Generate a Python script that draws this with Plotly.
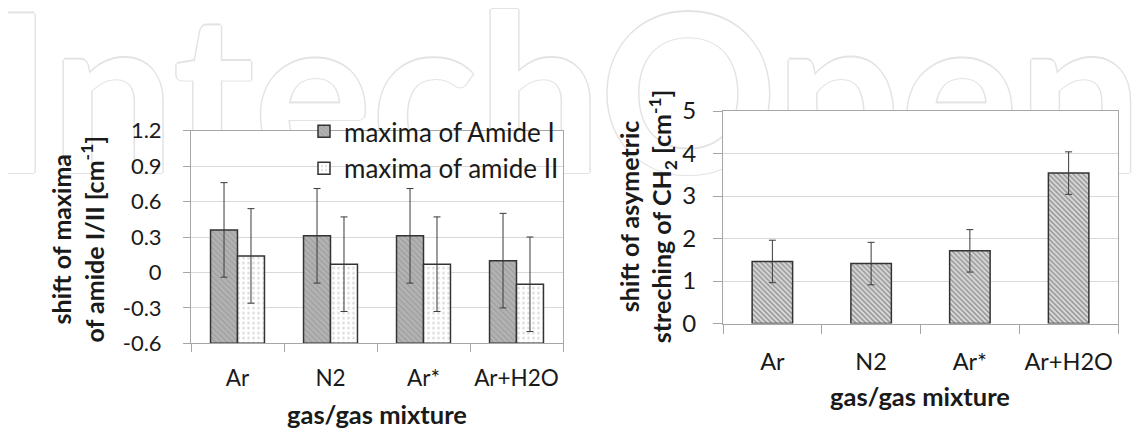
import plotly.graph_objects as go

# ---------------- data ----------------
categories = ["Ar", "N2", "Ar*", "Ar+H2O"]

amide1 = [0.36, 0.31, 0.31, 0.10]
amide1_err = [0.40, 0.40, 0.40, 0.40]
amide2 = [0.14, 0.07, 0.07, -0.10]
amide2_err = [0.40, 0.40, 0.40, 0.40]

ch2 = [1.46, 1.41, 1.71, 3.54]
ch2_err = [0.50, 0.50, 0.50, 0.50]

left_ticks = [-0.6, -0.3, 0, 0.3, 0.6, 0.9, 1.2]
right_ticks = [0, 1, 2, 3, 4, 5]

legend_names = ["maxima of Amide I", "maxima of amide II"]

# ---------------- style ----------------
W, H = 1143, 433
FONT = "Lato"
TXT = "#1a1a1a"
AX = "#a6a6a6"
GRID = "#d9d9d9"
ERR = "#3a3a3a"
EDGE = "#333333"

left_min, left_max = left_ticks[0], left_ticks[-1]
right_min, right_max = right_ticks[0], right_ticks[-1]


def fmt(v):
    return "%g" % v


fig = go.Figure()

# left chart: bars grow from the bottom of the axis (Excel style)
fig.add_trace(go.Bar(
    x=categories, y=[v - left_min for v in amide1], base=left_min,
    name=legend_names[0], xaxis="x", yaxis="y",
    marker=dict(color="#adadad",
                line=dict(color=EDGE, width=1.5),
                pattern=dict(shape="\\", bgcolor="#b3b3b3", fgcolor="#888888",
                             size=4, solidity=0.3)),
    error_y=dict(type="data", array=amide1_err, color=ERR, thickness=1, width=3.5),
))
fig.add_trace(go.Bar(
    x=categories, y=[v - left_min for v in amide2], base=left_min,
    name=legend_names[1], xaxis="x", yaxis="y",
    marker=dict(color="#ffffff",
                line=dict(color=EDGE, width=1.5),
                pattern=dict(shape=".", bgcolor="#ffffff", fgcolor="#c0c0c0",
                             size=5, solidity=0.25)),
    error_y=dict(type="data", array=amide2_err, color=ERR, thickness=1, width=3.5),
))

# right chart
fig.add_trace(go.Bar(
    x=categories, y=ch2, xaxis="x2", yaxis="y2", showlegend=False,
    marker=dict(color="#bdbdbd",
                line=dict(color=EDGE, width=1.5),
                pattern=dict(shape="\\", bgcolor="#e2e2e2", fgcolor="#4a4a4a",
                             size=3.5, solidity=0.5)),
    error_y=dict(type="data", array=ch2_err, color=ERR, thickness=1, width=3.5),
))

n = len(categories)

axis_common = dict(showline=True, linecolor=AX, linewidth=1, mirror=True,
                   zeroline=False, color=TXT)

fig.update_layout(
    width=W, height=H,
    margin=dict(l=0, r=0, t=0, b=0),
    paper_bgcolor="white",
    plot_bgcolor="rgba(0,0,0,0)",
    font=dict(family=FONT, color=TXT),
    barmode="group",
    showlegend=True,
    legend=dict(x=556 / W, xanchor="right", y=1 - 90 / H, yanchor="top",
                bgcolor="rgba(0,0,0,0)", font=dict(size=26, family=FONT, color=TXT),
                tracegroupgap=0, itemwidth=30),
    xaxis=dict(domain=[183 / W, 555 / W], anchor="y", type="category",
               ticks="outside", tickson="boundaries", ticklen=8, tickcolor=AX,
               ticklabelstandoff=15, tickangle=0, tickfont=dict(size=22.5),
               showgrid=False, **axis_common),
    yaxis=dict(domain=[1 - 342.3 / H, 1 - 114.3 / H], anchor="x",
               range=[left_min, left_max], tickvals=left_ticks,
               ticktext=[fmt(v) for v in left_ticks],
               ticks="outside", ticklen=7, tickcolor=AX, ticklabelstandoff=17,
               tickfont=dict(size=22), showgrid=True, gridcolor=GRID, gridwidth=1,
               **axis_common),
    xaxis2=dict(domain=[715 / W, 1110 / W], anchor="y2", type="category",
                ticks="outside", tickson="boundaries", ticklen=9, tickcolor=AX,
                ticklabelstandoff=17, tickangle=0, tickfont=dict(size=23.5),
                showgrid=False, **axis_common),
    yaxis2=dict(domain=[1 - 321 / H, 1 - 93.3 / H], anchor="x2",
                range=[right_min, right_max], tickvals=right_ticks,
                ticktext=[fmt(v) for v in right_ticks],
                ticks="outside", ticklen=9, tickcolor=AX, ticklabelstandoff=12,
                tickfont=dict(size=24), showgrid=True, gridcolor=GRID, gridwidth=1,
                **axis_common),
)
fig.update_layout(bargap=0.42, bargroupgap=0)
fig.data[2].update(width=0.41)

# background watermark (behind the plot areas)
OUT = "#e3e3e3"
fig.add_shape(type="rect", xref="paper", yref="paper",
              x0=-24 / W, x1=1, y0=1 - 130 / H, y1=1,
              line=dict(width=0), fillcolor="rgba(0,0,0,0)", layer="below",
              label=dict(text="IntechOpen", textposition="middle left", padding=0,
                         font=dict(family=FONT, size=220, color="white", weight="bold",
                                   shadow=f"1.5px 0 0 {OUT}, -1.5px 0 0 {OUT}, 0 1.5px 0 {OUT}, 0 -1.5px 0 {OUT}")))
# white plot areas covering the watermark
fig.add_shape(type="rect", xref="x", yref="y", x0=-0.5, x1=n - 0.5,
              y0=left_min, y1=left_max, fillcolor="white", line=dict(width=0),
              layer="below")
fig.add_shape(type="rect", xref="x2", yref="y2", x0=-0.5, x1=n - 0.5,
              y0=right_min, y1=right_max, fillcolor="white", line=dict(width=0),
              layer="below")

# axis titles
fig.add_annotation(text="<b>shift of maxima<br>of amide I/II [cm<sup>-1</sup>]</b>",
                   x=70 / W, y=1 - 231 / H, xref="paper", yref="paper",
                   textangle=-90, showarrow=False, font=dict(size=25, family=FONT),
                   xanchor="center", yanchor="middle")
fig.add_annotation(text="<b>gas/gas mixture</b>",
                   x=369 / W, y=1 - 418 / H, xref="paper", yref="paper",
                   showarrow=False, font=dict(size=25.5, family=FONT),
                   xanchor="center", yanchor="middle")
fig.add_annotation(text="<b>shift of asymetric<br>streching of CH<sub>2</sub> [cm<sup>-1</sup>]</b>",
                   x=639 / W, y=1 - 206 / H, xref="paper", yref="paper",
                   textangle=-90, showarrow=False, font=dict(size=25, family=FONT),
                   xanchor="center", yanchor="middle")
fig.add_annotation(text="<b>gas/gas mixture</b>",
                   x=912 / W, y=1 - 399 / H, xref="paper", yref="paper",
                   showarrow=False, font=dict(size=25.5, family=FONT),
                   xanchor="center", yanchor="middle")

fig.write_html("out.html")
